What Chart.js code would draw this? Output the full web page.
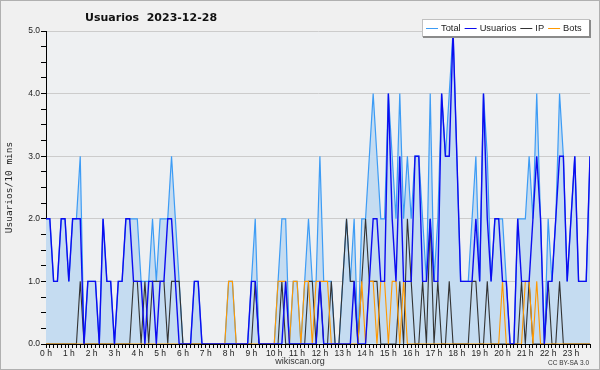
<!DOCTYPE html>
<html>
<head>
<meta charset="utf-8">
<title>Usuarios 2023-12-28</title>
<script src="https://cdn.jsdelivr.net/npm/chart.js@4.4.1/dist/chart.umd.min.js"></script>
<style>
  html, body { margin: 0; padding: 0; background: #f0f0f0; }
  #chart { display: block; }
</style>
</head>
<body>
<canvas id="chart" width="600" height="370"></canvas>
<script>
// one value every 10 minutes, 144 slots for the day
const hourLabels = ['0 h','1 h','2 h','3 h','4 h','5 h','6 h','7 h','8 h','9 h','10 h','11 h',
  '12 h','13 h','14 h','15 h','16 h','17 h','18 h','19 h','20 h','21 h','22 h','23 h'];

const total = [
  2,2,1,1,2,2,1,2,2,3, 0,1,1,1,0,2,1,1,0,1,
  1,2,2,2,2,1,1,1,2,1, 2,2,2,3,2,1,0,0,0,1,
  1,0,0,0,0,0,0,0,1,1, 0,0,0,0,1,2,0,0,0,0,
  0,1,2,2,0,1,1,0,1,2, 1,1,3,1,1,1,0,0,1,2,
  1,2,0,2,2,3,4,3,2,2, 4,3,2,4,2,3,2,3,3,2,
  1,4,1,2,4,3,4,5,3,1, 1,1,2,3,1,4,3,1,2,2,
  2,1,0,0,2,2,2,3,2,4, 2,0,2,1,2,4,3,1,2,3,
  1,1,1,3
];
const usuarios = [
  2,2,1,1,2,2,1,2,2,2, 0,1,1,1,0,2,1,1,0,1,
  1,2,2,1,1,1,0,1,1,0, 1,1,2,2,1,0,0,0,0,1,
  1,0,0,0,0,0,0,0,0,0, 0,0,0,0,1,1,0,0,0,0,
  0,0,0,1,0,0,0,0,0,0, 0,0,1,0,0,0,0,0,0,0,
  0,1,0,0,0,1,2,2,1,1, 4,2,1,3,1,1,1,3,3,1,
  1,2,1,1,4,3,3,5,3,1, 1,1,1,2,1,4,2,1,2,2,
  1,1,0,0,2,1,1,1,2,3, 2,0,1,1,2,3,3,1,2,3,
  1,1,1,3
];
const ip = [
  0,0,0,0,0,0,0,0,0,1, 0,0,0,0,0,0,0,0,0,0,
  0,0,0,1,1,0,1,0,1,1, 1,1,0,1,1,1,0,0,0,0,
  0,0,0,0,0,0,0,0,0,0, 0,0,0,0,0,1,0,0,0,0,
  0,0,1,0,0,0,0,0,0,1, 1,0,1,0,0,1,0,0,1,2,
  1,1,0,1,2,1,1,1,0,0, 0,0,0,1,0,2,1,0,0,1,
  0,2,0,1,0,0,1,0,0,0, 0,0,1,1,0,0,1,0,0,0,
  0,0,0,0,0,1,0,1,0,0, 0,0,1,0,0,1,0,0,0,0,
  0,0,0,0
];
const bots = [
  0,0,0,0,0,0,0,0,0,0, 0,0,0,0,0,0,0,0,0,0,
  0,0,0,0,0,0,0,0,0,0, 0,0,0,0,0,0,0,0,0,0,
  0,0,0,0,0,0,0,0,1,1, 0,0,0,0,0,0,0,0,0,0,
  0,1,1,1,0,1,1,0,1,1, 0,1,1,1,1,0,0,0,0,0,
  0,0,0,1,0,1,1,0,1,1, 0,1,1,0,1,0,0,0,0,0,
  0,0,0,0,0,0,0,0,0,0, 0,0,0,0,0,0,0,0,0,0,
  1,0,0,0,0,0,1,1,0,1, 0,0,0,0,0,0,0,0,0,0,
  0,0,0,0
];

const slots = total.map((v, i) => i);

// background, frame, title, legend and footer texts
const decor = {
  id: 'decor',
  beforeDraw(chart) {
    const { ctx, chartArea: a, width, height } = chart;
    ctx.save();
    ctx.fillStyle = '#f0f0f0';
    ctx.fillRect(0, 0, width, height);
    ctx.fillStyle = '#eef0f2';
    ctx.fillRect(a.left, a.top, a.right - a.left, a.bottom - a.top);
    ctx.strokeStyle = '#b0b0b0';
    ctx.lineWidth = 1;
    ctx.strokeRect(0.5, 0.5, width - 1, height - 1);
    ctx.restore();
  },
  afterDraw(chart) {
    const { ctx } = chart;
    ctx.save();
    ctx.fillStyle = '#111';
    ctx.textBaseline = 'middle';
    ctx.font = 'bold 11px "DejaVu Sans"';
    ctx.fillText('Usuarios  2023-12-28', 85, 18);

    ctx.font = '9px "Liberation Sans"';
    ctx.fillStyle = '#333';
    ctx.textAlign = 'center';
    ctx.fillText('wikiscan.org', 300, 362);
    ctx.font = '6.5px "Liberation Sans"';
    ctx.textAlign = 'right';
    ctx.fillText('CC BY-SA 3.0', 589, 363);

    // legend box with its shadow
    ctx.fillStyle = '#fff';
    ctx.fillRect(423, 20, 166, 16);
    ctx.strokeStyle = '#c0c0c0';
    ctx.strokeRect(422.5, 19.5, 167, 17);
    ctx.fillStyle = '#8a8a8a';
    ctx.fillRect(589, 20, 2, 18);
    ctx.fillRect(423, 36, 168, 2);

    ctx.font = '9.3px "Liberation Sans"';
    ctx.textAlign = 'left';
    let x = 426;
    chart.data.datasets.forEach(ds => {
      ctx.strokeStyle = ds.borderColor;
      ctx.lineWidth = 1;
      ctx.beginPath();
      ctx.moveTo(x, 28.5);
      ctx.lineTo(x + 12, 28.5);
      ctx.stroke();
      ctx.fillStyle = '#222';
      ctx.fillText(ds.label, x + 15, 28.5);
      x += 15 + ctx.measureText(ds.label).width + 4;
    });
    ctx.restore();
  }
};

Chart.defaults.font.family = '"Liberation Sans", sans-serif';

new Chart(document.getElementById('chart'), {
  type: 'line',
  data: {
    labels: slots,
    datasets: [
      { label: 'Total', data: total, borderColor: '#3d9cf5', backgroundColor: '#c5dcf1',
        fill: 'origin', borderWidth: 1.2, order: 4 },
      { label: 'Usuarios', data: usuarios, borderColor: '#0c0cf0', borderWidth: 1.4, fill: false, order: 1 },
      { label: 'IP', data: ip, borderColor: '#333333', borderWidth: 1.1, fill: false, order: 3 },
      { label: 'Bots', data: bots, borderColor: '#ff9900', borderWidth: 1.1, fill: false, order: 2 }
    ]
  },
  options: {
    responsive: false,
    animation: false,
    devicePixelRatio: 1,
    layout: { padding: { top: 31, right: 10, left: 0, bottom: 0 } },
    elements: { point: { radius: 0 }, line: { tension: 0 } },
    plugins: { legend: { display: false }, tooltip: { enabled: false } },
    scales: {
      x: {
        type: 'linear', min: 0, max: 143,
        afterFit(s) { s.height = 26; },
        border: { color: '#000' },
        grid: { drawOnChartArea: false, tickColor: '#000', tickLength: 4 },
        ticks: {
          stepSize: 1, autoSkip: false, maxRotation: 0, padding: 1,
          color: '#222', font: { size: 8.5 },
          callback: v => (v % 6 === 0 ? hourLabels[v / 6] : '')
        }
      },
      y: {
        min: 0, max: 5,
        afterFit(s) { s.width = 46; },
        border: { color: '#000' },
        grid: {
          color: c => (c.tick && Number.isInteger(c.tick.value) ? '#cccccc' : 'rgba(0,0,0,0)'),
          tickColor: '#000', tickLength: 5
        },
        ticks: {
          stepSize: 0.25, autoSkip: false, padding: 1,
          color: '#222', font: { size: 8.5 },
          callback: v => (Number.isInteger(v) ? v.toFixed(1) : '')
        },
        title: {
          display: true, text: 'Usuarios/10 mins', color: '#222',
          font: { family: '"DejaVu Sans Mono", monospace', size: 9.5 },
          padding: { top: 4, bottom: 0 }
        }
      }
    }
  },
  plugins: [decor]
});
</script>
</body>
</html>
